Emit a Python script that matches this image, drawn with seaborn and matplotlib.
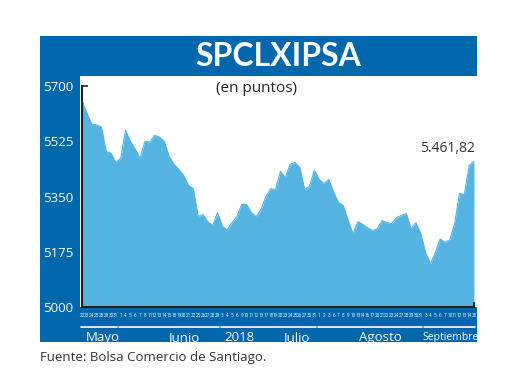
import matplotlib
matplotlib.use("Agg")
import matplotlib.pyplot as plt
import matplotlib.patches as mpatches
import matplotlib.transforms as mtransforms
import numpy as np
import pandas as pd
import seaborn as sns

# Trading days shown under the axis, one list per month
days_may = [22, 23, 24, 25, 28, 29, 30, 31]
days_jun = [1, 4, 5, 6, 7, 8, 11, 12, 13, 14, 15, 18, 19, 20, 21, 22, 25, 26, 27, 28, 29]
days_jul = [3, 4, 5, 6, 9, 10, 11, 12, 13, 17, 18, 19, 20, 23, 24, 25, 26, 27, 30, 31]
days_aug = [1, 2, 3, 6, 7, 8, 9, 10, 13, 14, 16, 17, 20, 21, 22, 23, 24, 27, 28, 29, 30, 31]
days_sep = [3, 4, 5, 6, 7, 10, 11, 12, 13, 14, 20]

month_names = ["Mayo", "Junio", "Julio", "Agosto", "Septiembre"]
year_label = "2018"

# Index close values (points)
ipsa_values = [
    5652, 5615, 5579, 5577, 5570, 5493, 5487, 5458, 5471, 5560,
    5525, 5500, 5471, 5525, 5522, 5544, 5538, 5525, 5477, 5452,
    5436, 5417, 5385, 5375, 5286, 5293, 5270, 5258, 5299, 5255,
    5245, 5267, 5286, 5325, 5325, 5299, 5286, 5309, 5350, 5375,
    5372, 5430, 5410, 5452, 5458, 5442, 5372, 5382, 5433, 5404,
    5391, 5404, 5363, 5331, 5321, 5274, 5232, 5270, 5262, 5251,
    5242, 5248, 5274, 5267, 5264, 5283, 5290, 5296, 5248, 5267,
    5232, 5172, 5137, 5172, 5216, 5204, 5213, 5264, 5360, 5356,
    5448, 5461.82,
]

y_ticks = [5000, 5175, 5350, 5525, 5700]
last_label = "5.461,82"

# where the month names sit along the x axis (in day-index units)
month_label_x = [4.3, 21.1, 44.2, 61.6, 76.2]
year_label_x = 32.6

BOX_BLUE = "#0067ac"
FILL_BLUE = "#56b4e2"
W, H = 520, 390


def fig_rect(x0, y0, x1, y1):
    """Pixel box (top-left origin) to figure-fraction rect."""
    return [x0 / W, 1 - y1 / H, (x1 - x0) / W, (y1 - y0) / H]


def add_box(fig, x0, y0, x1, y1, color):
    r = fig_rect(x0, y0, x1, y1)
    fig.patches.append(mpatches.Rectangle((r[0], r[1]), r[2], r[3], transform=fig.transFigure,
                                          facecolor=color, edgecolor="none", zorder=-10))


def main():
    sns.set_theme(style="white")
    plt.rcParams["font.family"] = ["Open Sans", "DejaVu Sans"]

    month_days = [days_may, days_jun, days_jul, days_aug, days_sep]
    day_labels = [str(d) for days in month_days for d in days]
    df = pd.DataFrame({"idx": np.arange(len(ipsa_values)), "value": ipsa_values})

    fig = plt.figure(figsize=(W / 100, H / 100), dpi=100)
    fig.patch.set_facecolor("white")

    # blue frame + white plotting panel
    add_box(fig, 40, 36, 477, 342, BOX_BLUE)
    add_box(fig, 80, 76, 477, 307, "white")

    fig.text(278 / W, 1 - 57 / H, "SPCLXIPSA", color="white", fontsize=23, fontweight="bold",
             ha="center", va="center", family=["Lato", "DejaVu Sans"])
    fig.text(257 / W, 1 - 89 / H, "(en puntos)", color="#222222", fontsize=11,
             ha="center", va="center")
    fig.text(40 / W, 1 - 357 / H, "Fuente: Bolsa Comercio de Santiago.", color="#333333",
             fontsize=9.5, ha="left", va="center")

    ax = fig.add_axes(fig_rect(82, 86, 474, 307))
    ax.set_facecolor("none")
    ax.set_zorder(5)
    sns.lineplot(data=df, x="idx", y="value", ax=ax, color=FILL_BLUE, linewidth=0.8)
    ax.fill_between(df["idx"], df["value"], 5000, color=FILL_BLUE, linewidth=0)

    ax.set_xlim(0, len(ipsa_values) - 1)
    ax.set_ylim(5000, 5700)
    ax.set_xlabel("")
    ax.set_ylabel("")

    ax.set_yticks(y_ticks)
    ax.set_yticklabels([str(t) for t in y_ticks], color="white", fontsize=9.5)
    ax.tick_params(axis="y", direction="in", length=4, width=1.2, color="#222222", pad=6, left=True)
    ax.set_xticks(df["idx"])
    ax.set_xticklabels(day_labels, color="#dfe9f5", fontsize=3.4,
                       family=["Roboto", "DejaVu Sans"])
    ax.tick_params(axis="x", length=0, pad=4)

    for side in ["top", "right"]:
        ax.spines[side].set_visible(False)
    for side in ["left", "bottom"]:
        ax.spines[side].set_color("#222222")
        ax.spines[side].set_linewidth(1.5)

    # month underlines and names under the day labels
    trans = mtransforms.blended_transform_factory(ax.transData, ax.transAxes)
    start = 0
    for name, days, xpos in zip(month_names, month_days, month_label_x):
        end = start + len(days) - 1
        ax.plot([start - 0.3, end + 0.3], [-0.09, -0.09], color="white", lw=1.2,
                transform=trans, clip_on=False)
        size = 7.5 if name == "Septiembre" else 9.5
        ax.text(xpos, -0.138, name, color="white", fontsize=size,
                ha="center", va="center", transform=trans, clip_on=False)
        start = end + 1
    ax.text(year_label_x, -0.138, year_label, color="white", fontsize=9.5, ha="center",
            va="center", transform=trans, clip_on=False)

    # small closing tick at the right end of the axis
    ax.plot([len(ipsa_values) - 1] * 2, [5000, 5012], color="#222222", lw=1.5, clip_on=False)

    ax.annotate(last_label, xy=(len(ipsa_values) - 1, ipsa_values[-1]), xytext=(1, 4),
                textcoords="offset points", ha="right", va="bottom", fontsize=10,
                color="#333333")

    fig.savefig("out.png", dpi=100, facecolor="white")


if __name__ == "__main__":
    main()
